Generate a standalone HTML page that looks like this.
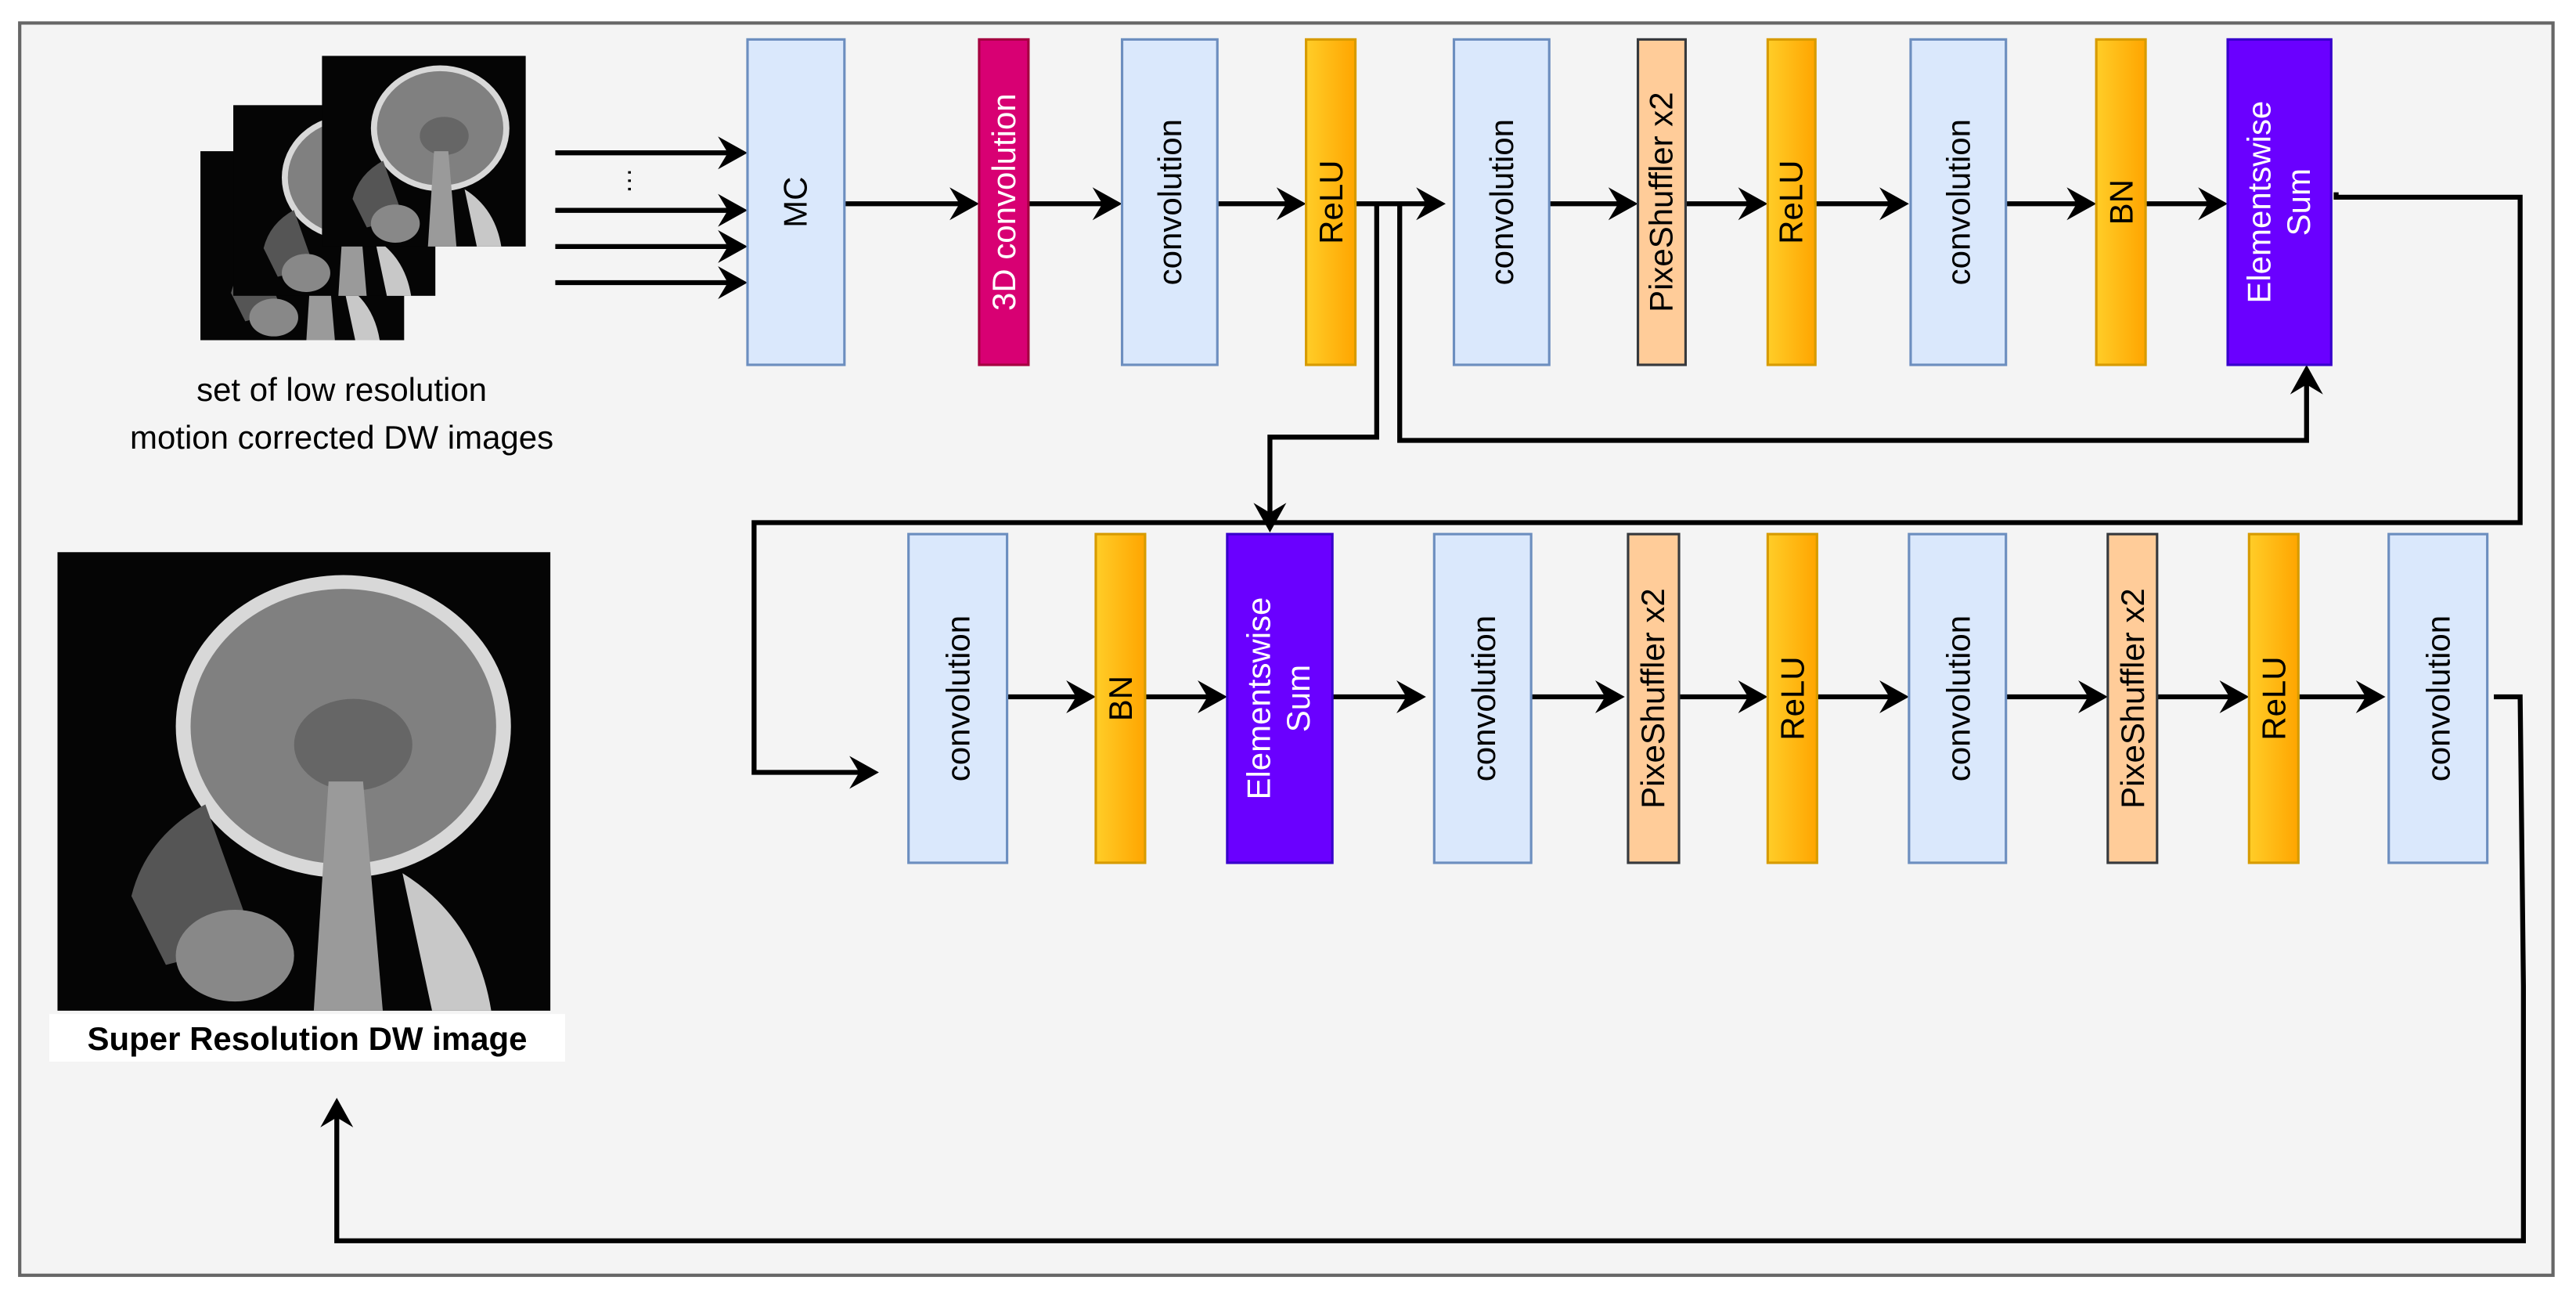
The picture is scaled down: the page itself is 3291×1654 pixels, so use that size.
<!DOCTYPE html>
<html><head><meta charset="utf-8"><style>
html,body{margin:0;padding:0;background:#fff}
svg{display:block}
text{font-family:"Liberation Sans",sans-serif}
</style></head><body>
<svg width="3291" height="1654" viewBox="0 0 1568 788" preserveAspectRatio="none" xmlns="http://www.w3.org/2000/svg">
<defs>
<path id="ah" d="M0,0 L-18,-10 L-12,0 L-18,10 Z" fill="#000"/>
<linearGradient id="og" x1="0" x2="1" y1="0" y2="0"><stop offset="0" stop-color="#ffcd28"/><stop offset="1" stop-color="#ffa500"/></linearGradient>
<g id="mri">
<rect x="0" y="0" width="100" height="100" fill="#050505"/>
<ellipse cx="58" cy="38" rx="34" ry="33" fill="#d8d8d8"/>
<ellipse cx="58" cy="38" rx="31" ry="30" fill="#808080"/>
<ellipse cx="60" cy="42" rx="12" ry="10" fill="#666"/>
<path d="M55,50 L62,50 L66,100 L52,100 Z" fill="#9a9a9a"/>
<path d="M30,55 Q18,62 15,75 L22,90 L40,85 Z" fill="#555"/>
<ellipse cx="36" cy="88" rx="12" ry="10" fill="#888"/>
<path d="M70,70 Q85,80 88,100 L76,100 Z" fill="#c8c8c8"/>
</g>
</defs>
<rect x="12" y="14" width="1542" height="762" fill="#f4f4f4" stroke="#666" stroke-width="2"/>

<use href="#mri" transform="translate(122,92) scale(1.24,1.15)"/>
<use href="#mri" transform="translate(142,64) scale(1.23,1.16)"/>
<use href="#mri" transform="translate(196,34) scale(1.24,1.16)"/>
<text x="208" y="244" font-size="20" text-anchor="middle">set of low resolution</text>
<text x="208" y="273" font-size="20" text-anchor="middle">motion corrected DW images</text>

<use href="#mri" transform="translate(35,336) scale(3.0,2.79)"/>
<rect x="30" y="617" width="314" height="29" fill="#fff"/>
<text x="187" y="639" font-size="20" font-weight="bold" text-anchor="middle">Super Resolution DW image</text>

<g stroke="#000" stroke-width="3" fill="none">
<line x1="338" y1="93" x2="445" y2="93"/>
<line x1="338" y1="128" x2="445" y2="128"/>
<line x1="338" y1="150" x2="445" y2="150"/>
<line x1="338" y1="172" x2="445" y2="172"/>
<line x1="514" y1="124" x2="586" y2="124"/>
<line x1="626" y1="124" x2="673" y2="124"/>
<line x1="741" y1="124" x2="785" y2="124"/>
<line x1="825" y1="124" x2="870" y2="124"/>
<line x1="943" y1="124" x2="987" y2="124"/>
<line x1="1026" y1="124" x2="1066" y2="124"/>
<line x1="1105" y1="124" x2="1152" y2="124"/>
<line x1="1221" y1="124" x2="1266" y2="124"/>
<line x1="1306" y1="124" x2="1346" y2="124"/>
<polyline points="1422,117 1422,120 1534,120 1534,318 459,318 459,470 525,470"/>
<polyline points="838,124 838,266 773,266 773,314"/>
<polyline points="852,124 852,268 1404,268 1404,232"/>
<line x1="613" y1="424" x2="657" y2="424"/>
<line x1="697" y1="424" x2="737" y2="424"/>
<line x1="811" y1="424" x2="858" y2="424"/>
<line x1="932" y1="424" x2="979" y2="424"/>
<line x1="1022" y1="424" x2="1066" y2="424"/>
<line x1="1106" y1="424" x2="1152" y2="424"/>
<line x1="1221" y1="424" x2="1273" y2="424"/>
<line x1="1313" y1="424" x2="1359" y2="424"/>
<line x1="1399" y1="424" x2="1442" y2="424"/>
<polyline points="1518,424 1534,424 1536,600 1536,755 205,755 205,678"/>
</g>
<g>
<use href="#ah" transform="translate(455,93)"/>
<use href="#ah" transform="translate(455,128)"/>
<use href="#ah" transform="translate(455,150)"/>
<use href="#ah" transform="translate(455,172)"/>
<use href="#ah" transform="translate(596,124)"/>
<use href="#ah" transform="translate(683,124)"/>
<use href="#ah" transform="translate(795,124)"/>
<use href="#ah" transform="translate(880,124)"/>
<use href="#ah" transform="translate(997,124)"/>
<use href="#ah" transform="translate(1076,124)"/>
<use href="#ah" transform="translate(1162,124)"/>
<use href="#ah" transform="translate(1276,124)"/>
<use href="#ah" transform="translate(1356,124)"/>
<use href="#ah" transform="translate(535,470)"/>
<use href="#ah" transform="translate(773,324) rotate(90)"/>
<use href="#ah" transform="translate(1404,222) rotate(-90)"/>
<use href="#ah" transform="translate(667,424)"/>
<use href="#ah" transform="translate(747,424)"/>
<use href="#ah" transform="translate(868,424)"/>
<use href="#ah" transform="translate(989,424)"/>
<use href="#ah" transform="translate(1076,424)"/>
<use href="#ah" transform="translate(1162,424)"/>
<use href="#ah" transform="translate(1283,424)"/>
<use href="#ah" transform="translate(1369,424)"/>
<use href="#ah" transform="translate(1452,424)"/>
<use href="#ah" transform="translate(205,668) rotate(-90)"/>
</g>
<text x="381" y="113" font-size="16" text-anchor="middle" transform="rotate(-90 381 110)">…</text>

<g font-size="20">
<rect x="455" y="24" width="59" height="198" fill="#dae8fc" stroke="#6c8ebf" stroke-width="1.5"/>
<text transform="translate(491,123) rotate(-90)" text-anchor="middle">MC</text>
<rect x="596" y="24" width="30" height="198" fill="#d80073" stroke="#a50040" stroke-width="1.5"/>
<text transform="translate(618,123) rotate(-90)" text-anchor="middle" fill="#fff">3D convolution</text>
<rect x="683" y="24" width="58" height="198" fill="#dae8fc" stroke="#6c8ebf" stroke-width="1.5"/>
<text transform="translate(719,123) rotate(-90)" text-anchor="middle">convolution</text>
<rect x="795" y="24" width="30" height="198" fill="url(#og)" stroke="#d79b00" stroke-width="1.5"/>
<text transform="translate(817,123) rotate(-90)" text-anchor="middle">ReLU</text>
<rect x="885" y="24" width="58" height="198" fill="#dae8fc" stroke="#6c8ebf" stroke-width="1.5"/>
<text transform="translate(921,123) rotate(-90)" text-anchor="middle">convolution</text>
<rect x="997" y="24" width="29" height="198" fill="#ffcc99" stroke="#36393d" stroke-width="1.5"/>
<text transform="translate(1018,123) rotate(-90)" text-anchor="middle">PixeShuffler x2</text>
<rect x="1076" y="24" width="29" height="198" fill="url(#og)" stroke="#d79b00" stroke-width="1.5"/>
<text transform="translate(1097,123) rotate(-90)" text-anchor="middle">ReLU</text>
<rect x="1163" y="24" width="58" height="198" fill="#dae8fc" stroke="#6c8ebf" stroke-width="1.5"/>
<text transform="translate(1199,123) rotate(-90)" text-anchor="middle">convolution</text>
<rect x="1276" y="24" width="30" height="198" fill="url(#og)" stroke="#d79b00" stroke-width="1.5"/>
<text transform="translate(1298,123) rotate(-90)" text-anchor="middle">BN</text>
<rect x="1356" y="24" width="63" height="198" fill="#6a00ff" stroke="#3700cc" stroke-width="1.5"/>
<text transform="translate(1382,123) rotate(-90)" text-anchor="middle" fill="#fff">Elementswise</text>
<text transform="translate(1406,123) rotate(-90)" text-anchor="middle" fill="#fff">Sum</text>
<rect x="553" y="325" width="60" height="200" fill="#dae8fc" stroke="#6c8ebf" stroke-width="1.5"/>
<text transform="translate(590,425) rotate(-90)" text-anchor="middle">convolution</text>
<rect x="667" y="325" width="30" height="200" fill="url(#og)" stroke="#d79b00" stroke-width="1.5"/>
<text transform="translate(689,425) rotate(-90)" text-anchor="middle">BN</text>
<rect x="747" y="325" width="64" height="200" fill="#6a00ff" stroke="#3700cc" stroke-width="1.5"/>
<text transform="translate(773,425) rotate(-90)" text-anchor="middle" fill="#fff">Elementswise</text>
<text transform="translate(797,425) rotate(-90)" text-anchor="middle" fill="#fff">Sum</text>
<rect x="873" y="325" width="59" height="200" fill="#dae8fc" stroke="#6c8ebf" stroke-width="1.5"/>
<text transform="translate(910,425) rotate(-90)" text-anchor="middle">convolution</text>
<rect x="991" y="325" width="31" height="200" fill="#ffcc99" stroke="#36393d" stroke-width="1.5"/>
<text transform="translate(1013,425) rotate(-90)" text-anchor="middle">PixeShuffler x2</text>
<rect x="1076" y="325" width="30" height="200" fill="url(#og)" stroke="#d79b00" stroke-width="1.5"/>
<text transform="translate(1098,425) rotate(-90)" text-anchor="middle">ReLU</text>
<rect x="1162" y="325" width="59" height="200" fill="#dae8fc" stroke="#6c8ebf" stroke-width="1.5"/>
<text transform="translate(1199,425) rotate(-90)" text-anchor="middle">convolution</text>
<rect x="1283" y="325" width="30" height="200" fill="#ffcc99" stroke="#36393d" stroke-width="1.5"/>
<text transform="translate(1305,425) rotate(-90)" text-anchor="middle">PixeShuffler x2</text>
<rect x="1369" y="325" width="30" height="200" fill="url(#og)" stroke="#d79b00" stroke-width="1.5"/>
<text transform="translate(1391,425) rotate(-90)" text-anchor="middle">ReLU</text>
<rect x="1454" y="325" width="60" height="200" fill="#dae8fc" stroke="#6c8ebf" stroke-width="1.5"/>
<text transform="translate(1491,425) rotate(-90)" text-anchor="middle">convolution</text>
</g>
</svg>
</body></html>
